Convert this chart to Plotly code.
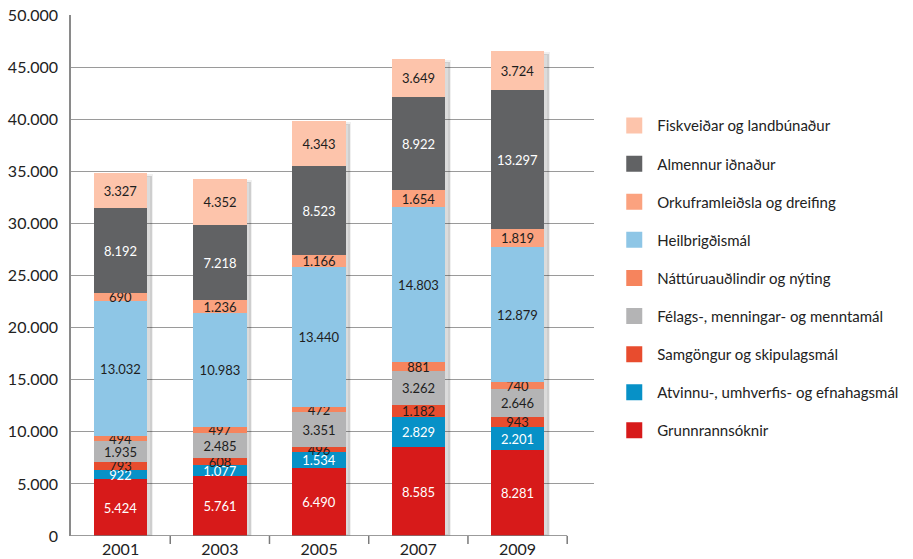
import plotly.graph_objects as go

years = ["2001", "2003", "2005", "2007", "2009"]

grunnrannsoknir = [5424, 5761, 6490, 8585, 8281]
atvinnu = [922, 1077, 1534, 2829, 2201]
samgongur = [793, 608, 496, 1182, 943]
felags = [1935, 2485, 3351, 3262, 2646]
natturu = [494, 497, 472, 881, 740]
heilbrigdis = [13032, 10983, 13440, 14803, 12879]
orku = [690, 1236, 1166, 1654, 1819]
almennur = [8192, 7218, 8523, 8922, 13297]
fiskveidar = [3327, 4352, 4343, 3649, 3724]

y_ticks = [0, 5000, 10000, 15000, 20000, 25000, 30000, 35000, 40000, 45000, 50000]

DARK = "#1e1e1e"
WHITE = "#ffffff"
# bottom to top
series = [
    ("Grunnrannsóknir", grunnrannsoknir, "#d71a1a", WHITE),
    ("Atvinnu-, umhverfis- og efnahagsmál", atvinnu, "#0791c7", WHITE),
    ("Samgöngur og skipulagsmál", samgongur, "#e84c2e", DARK),
    ("Félags-, menningar- og menntamál", felags, "#b4b4b5", DARK),
    ("Náttúruauðlindir og nýting", natturu, "#f6845d", DARK),
    ("Heilbrigðismál", heilbrigdis, "#8ec6e6", DARK),
    ("Orkuframleiðsla og dreifing", orku, "#fba27f", DARK),
    ("Almennur iðnaður", almennur, "#616264", WHITE),
    ("Fiskveiðar og landbúnaður", fiskveidar, "#fdc4ab", DARK),
]

idx = list(range(len(years)))
totals = [sum(s[1][i] for s in series) for i in idx]

FONT = "Lato"
fig = go.Figure()

# drop shadow behind each stacked column
fig.add_trace(go.Bar(
    x=[i + 0.045 for i in idx], y=[t - 280 for t in totals], width=0.54,
    marker=dict(color="rgba(0,0,0,0.14)", line=dict(color="rgba(0,0,0,0.06)", width=3)),
    showlegend=False, hoverinfo="skip", xaxis="x", yaxis="y",
))

for name, vals, color, tcolor in series:
    fig.add_trace(go.Bar(
        x=idx, y=vals, name=name, width=0.54,
        marker=dict(color=color, line=dict(width=0)),
        texttemplate="%{y:,}", textposition="inside", insidetextanchor="middle",
        constraintext="none",
        textfont=dict(family=FONT, size=13, color=tcolor),
        showlegend=False, xaxis="x2", yaxis="y",
    ))

# legend entries (top of stack first)
for name, vals, color, tcolor in reversed(series):
    fig.add_trace(go.Scatter(
        x=[None], y=[None], mode="markers", name=name, legendgroup=name,
        marker=dict(symbol="square", size=16, color=color, line=dict(width=0)),
        xaxis="x2", yaxis="y",
    ))

xr = [-0.5, len(years) - 0.5 + 0.27]
fig.update_layout(
    width=913, height=559,
    margin=dict(l=71, r=319, t=15, b=23, autoexpand=False),
    paper_bgcolor="white", plot_bgcolor="white",
    barmode="stack", bargap=0,
    separators=",.",
    font=dict(family=FONT, size=15, color="#222222"),
    xaxis=dict(range=xr, showgrid=False, showline=False, zeroline=False, automargin=False,
               tickmode="array", tickvals=idx, ticktext=years, ticks="",
               ticklabelstandoff=2,
               tickfont=dict(family=FONT, size=16, color="#222222")),
    xaxis2=dict(range=xr, overlaying="x", matches="x", showgrid=False, showline=False,
                zeroline=False, showticklabels=False, ticks="", automargin=False),
    yaxis=dict(range=[0, 50000], tickmode="array", tickvals=y_ticks, tickformat=",",
               showgrid=True, gridcolor="#9a9a9a", gridwidth=1, automargin=False,
               showline=True, linecolor="#8a8a8a", linewidth=1.5,
               zeroline=False, ticks="", ticklabelstandoff=8,
               tickfont=dict(family=FONT, size=16, color="#222222")),
    legend=dict(x=1.033, y=0.819, xanchor="left", yanchor="top", itemwidth=36,
                font=dict(family=FONT, size=15, color="#222222"),
                tracegroupgap=15.6, itemclick=False, bgcolor="rgba(0,0,0,0)"),
    showlegend=True,
)

# x axis baseline and category boundary ticks
fig.add_shape(type="line", xref="x", yref="y", x0=-0.5, x1=len(years) - 0.5, y0=0, y1=0,
              line=dict(color="#7a7a7a", width=1.5))
for b in [i + 0.5 for i in idx]:
    fig.add_shape(type="line", xref="x", yref="paper", x0=b, x1=b, y0=0, y1=-8 / 521,
                  line=dict(color="#7a7a7a", width=1.5))

fig.write_html(
    "out.html",
    config={"displayModeBar": False},
    post_script="document.body.style.margin='0';document.body.style.overflow='hidden';",
)
